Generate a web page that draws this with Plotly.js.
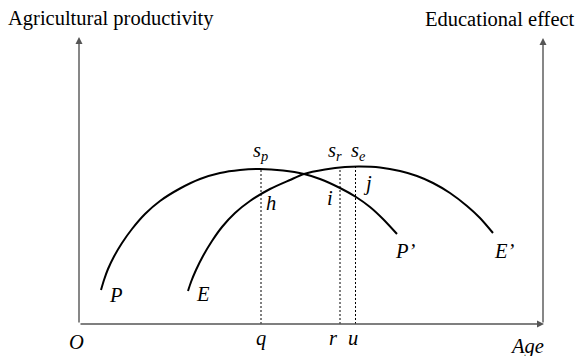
<!DOCTYPE html>
<html>
<head>
<meta charset="utf-8">
<script src="https://cdn.plot.ly/plotly-3.0.1.min.js"></script>
<style>html,body{margin:0;padding:0;background:#fff}#chart{width:580px;height:356px}</style>
</head>
<body>
<div id="chart"></div>
<script>
// Productivity curve P ... P'
const pAge = [22, 25, 29, 35, 43, 53, 66, 81, 101, 121, 141, 161, 181, 204, 225, 241, 261, 277, 291, 304, 318];
const pValue = [34, 44, 55, 67.5, 81, 95, 110, 123, 135.5, 145, 151, 154, 155, 153.5, 150, 145, 136, 127, 117, 105, 90];
// Educational effect curve E ... E'
const eAge = [109, 112, 117, 124, 133, 143, 156, 171, 191, 211, 225, 246, 266, 281, 301, 321, 338, 354, 371, 388, 401, 414];
const eValue = [33, 42, 54, 68, 83, 97, 111, 123, 135, 144, 150, 154.5, 157, 157.5, 156.5, 153, 148, 141, 131, 118, 106, 91];
// Vertical guide lines s_p -> q, s_r -> r, s_e -> u
const guideAge = [182, 261, 276.5];
const guideTop = [155, 156, 157.5];
const guideLabels = ['q', 'r', 'u'];
const topLabels = ['s<sub>p</sub>', 's<sub>r</sub>', 's<sub>e</sub>'];
const axisMaxX = 465;
const axisMaxY = 287;

const font = {family: 'Liberation Serif', size: 20.5, color: '#000'};

const gx = [], gy = [];
guideAge.forEach((a, k) => { gx.push(a, a, null); gy.push(0, guideTop[k], null); });

const traces = [
  {x: pAge, y: pValue, mode: 'lines', line: {color: '#000', width: 2, shape: 'spline', smoothing: 0.7}, hoverinfo: 'skip'},
  {x: eAge, y: eValue, mode: 'lines', line: {color: '#000', width: 2, shape: 'spline', smoothing: 0.7}, hoverinfo: 'skip'},
  {x: gx, y: gy, mode: 'lines', line: {color: '#000', width: 1, dash: '2px,2px'}, hoverinfo: 'skip', connectgaps: false}
];

function lab(x, y, text, xanchor) {
  return {x: x, y: y, xref: 'x', yref: 'y', text: text, showarrow: false,
          font: {family: font.family, size: font.size, color: font.color},
          xanchor: xanchor || 'center', yanchor: 'middle'};
}
function arrow(x, y, ax, ay) {
  return {x: x, y: y, ax: ax, ay: ay, xref: 'x', yref: 'y', axref: 'x', ayref: 'y', text: '',
          showarrow: true, arrowhead: 2, arrowsize: 1, arrowwidth: 1.4, arrowcolor: '#555', standoff: 0, startstandoff: 0};
}

const annotations = [
  arrow(0, axisMaxY, 0, 0),
  arrow(axisMaxX - 1, axisMaxY - 1, axisMaxX - 1, 0),
  arrow(axisMaxX, 0, 0, 0),
  lab(-73, 305.5, 'Agricultural productivity', 'left'),
  lab(498, 305.5, 'Educational effect', 'right'),
  lab(36.5, 29, '<i>P</i>'),
  lab(124.3, 30, '<i>E</i>'),
  lab(326, 73, '<i>P’</i>'),
  lab(425, 73, '<i>E’</i>'),
  lab(-3, -18, '<i>O</i>'),
  lab(448.3, -22, '<i>Age</i>'),
  lab(191.5, 121, '<i>h</i>'),
  lab(251, 126, '<i>i</i>'),
  lab(288, 141, '<i>j</i>')
];
const bottomX = [181.5, 254.3, 273.8];
guideLabels.forEach((t, k) => annotations.push(lab(bottomX[k], -14, '<i>' + t + '</i>')));
const topX = [181.7, 255.5, 279.5];
topLabels.forEach((t, k) => annotations.push(lab(topX[k], 173, '<i>' + t + '</i>')));

const layout = {
  width: 580, height: 356,
  margin: {l: 0, r: 0, t: 0, b: 0},
  font: {family: 'Liberation Serif', size: 20.5, color: '#000'},
  paper_bgcolor: '#fff', plot_bgcolor: '#fff',
  showlegend: false,
  xaxis: {range: [-79, 501], visible: false, fixedrange: true},
  yaxis: {range: [-32, 324], visible: false, fixedrange: true},
  annotations: annotations
};
Plotly.newPlot('chart', traces, layout, {displayModeBar: false, staticPlot: true});
</script>
</body>
</html>
